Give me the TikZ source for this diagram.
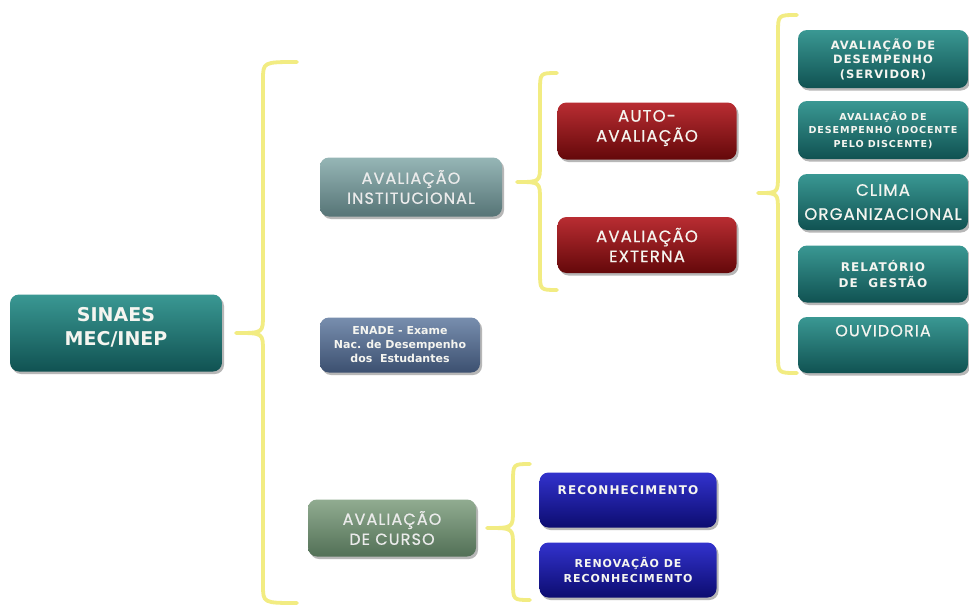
\documentclass[tikz,border=0pt]{standalone}
\usepackage{fontspec}
\setmainfont{DejaVu Sans}
\newfontfamily\gothic[LetterSpace=7, FakeBold=0.7]{Poppins}
\newfontfamily\verd[LetterSpace=9]{DejaVu Sans}
\usetikzlibrary{shadows}
\definecolor{bracecol}{RGB}{242,236,130}
\definecolor{tealA}{RGB}{58,152,147}
\definecolor{tealM}{RGB}{36,124,120}
\definecolor{tealB}{RGB}{16,82,82}
\definecolor{redA}{RGB}{185,45,50}
\definecolor{redM}{RGB}{162,22,28}
\definecolor{redB}{RGB}{100,8,10}
\definecolor{grayA}{RGB}{150,182,182}
\definecolor{grayM}{RGB}{122,155,156}
\definecolor{grayB}{RGB}{86,116,118}
\definecolor{enA}{RGB}{120,142,174}
\definecolor{enM}{RGB}{92,114,148}
\definecolor{enB}{RGB}{60,80,112}
\definecolor{grnA}{RGB}{145,172,145}
\definecolor{grnM}{RGB}{116,146,118}
\definecolor{grnB}{RGB}{82,112,86}
\definecolor{bluA}{RGB}{50,50,205}
\definecolor{bluM}{RGB}{30,30,170}
\definecolor{bluB}{RGB}{12,12,112}
\definecolor{txtw}{RGB}{245,245,240}
\newcommand\mybrace[6]{%
  \draw[bracestyle] (#1,#4) .. controls (#2,#4) .. (#2,{#4+18}) -- (#2,{#5-18})
    .. controls (#2,#5) .. (#3,#5) .. controls (#2,#5) .. (#2,{#5+18})
    -- (#2,{#6-18}) .. controls (#2,#6) .. (#1,#6);}
\tikzset{
  bracestyle/.style={draw=bracecol, line width=3.8pt, line cap=round, line join=round},
  box/.style={rectangle, rounded corners=9pt, draw=none, text=txtw, align=center,
    inner sep=0pt, drop shadow={shadow xshift=2pt, shadow yshift=-2.5pt, opacity=0.4, fill=black!70}},
  lbl/.style={text=txtw, align=center, inner sep=0pt},
  teal/.style={box, top color=tealA, middle color=tealM, bottom color=tealB},
  redb/.style={box, top color=redA, middle color=redM, bottom color=redB},
  grayb/.style={box, top color=grayA, middle color=grayM, bottom color=grayB},
  enb/.style={box, top color=enA, middle color=enM, bottom color=enB},
  grnb/.style={box, top color=grnA, middle color=grnM, bottom color=grnB},
  blub/.style={box, top color=bluA, middle color=bluM, bottom color=bluB},
  gfont/.style={font=\gothic\fontsize{16}{20}\selectfont},
}
\begin{document}
\begin{tikzpicture}[x=1pt,y=-1pt]
\useasboundingbox (0,0) rectangle (969,605);
\fill[white] (0,0) rectangle (969,605);

% braces
\mybrace{297}{263}{236}{62}{333}{603}
\mybrace{557}{540}{517}{73}{182}{290}
\mybrace{797}{778}{758}{15}{193}{373}
\mybrace{530}{513}{487}{464}{528}{600}

% root
\node[teal, minimum width=212pt, minimum height=77pt,
  label={[lbl, yshift=6pt, font=\bfseries\fontsize{19}{24}\selectfont]center:{SINAES\\MEC/INEP}}] (sinaes) at (116,333) {};

% level 1
\node[grayb, minimum width=182pt, minimum height=59pt, gfont, text=black!8] (inst) at (411,187) {AVALIAÇÃO\\INSTITUCIONAL};
\node[enb, minimum width=160pt, minimum height=55pt, font=\bfseries\fontsize{11}{14}\selectfont] (enade) at (400,345) {ENADE - Exame\\Nac. de Desempenho\\dos~ Estudantes};
\node[grnb, minimum width=168pt, minimum height=57pt, gfont, text=black!8] (curso) at (392,528) {AVALIAÇÃO\\DE CURSO};

% level 2
\node[redb, minimum width=179pt, minimum height=57pt,
  label={[lbl, yshift=3pt, font=\gothic\fontsize{16.5}{20}\selectfont]center:{AUTO-\\AVALIAÇÃO}}] (auto) at (647,131) {};
\node[redb, minimum width=179pt, minimum height=56pt, font=\gothic\fontsize{16.5}{20}\selectfont] (ext) at (647,245) {AVALIAÇÃO\\EXTERNA};
\node[blub, minimum width=177pt, minimum height=55pt,
  label={[lbl, anchor=north, yshift=-13pt, font=\verd\bfseries\fontsize{12}{14}\selectfont]north:RECONHECIMENTO}] (recon) at (628,500) {};
\node[blub, minimum width=177pt, minimum height=55pt, font=\verd\bfseries\fontsize{11}{15}\selectfont] (renov) at (628,570) {RENOVAÇÃO DE\\RECONHECIMENTO};

% level 3
\node[teal, minimum width=170pt, minimum height=58pt, font=\verd\bfseries\fontsize{11.5}{14.5}\selectfont] (serv) at (883,59) {AVALIAÇÃO DE\\DESEMPENHO\\(SERVIDOR)};
\node[teal, minimum width=170pt, minimum height=58pt, font=\verd\bfseries\fontsize{9.6}{13.5}\selectfont] (doc) at (883,130) {AVALIAÇÃO DE\\DESEMPENHO (DOCENTE\\PELO DISCENTE)};
\node[teal, minimum width=170pt, minimum height=56pt, font=\gothic\fontsize{16.5}{24}\selectfont] (clima) at (883,202) {CLIMA\\ORGANIZACIONAL};
\node[teal, minimum width=170pt, minimum height=57pt, font=\verd\bfseries\fontsize{12}{16}\selectfont] (rel) at (883,274) {RELATÓRIO\\DE~ GESTÃO};
\node[teal, minimum width=170pt, minimum height=56pt,
  label={[lbl, anchor=north, yshift=-8pt, font=\gothic\fontsize{16}{20}\selectfont]north:OUVIDORIA}] (ouv) at (883,345) {};
\end{tikzpicture}
\end{document}
